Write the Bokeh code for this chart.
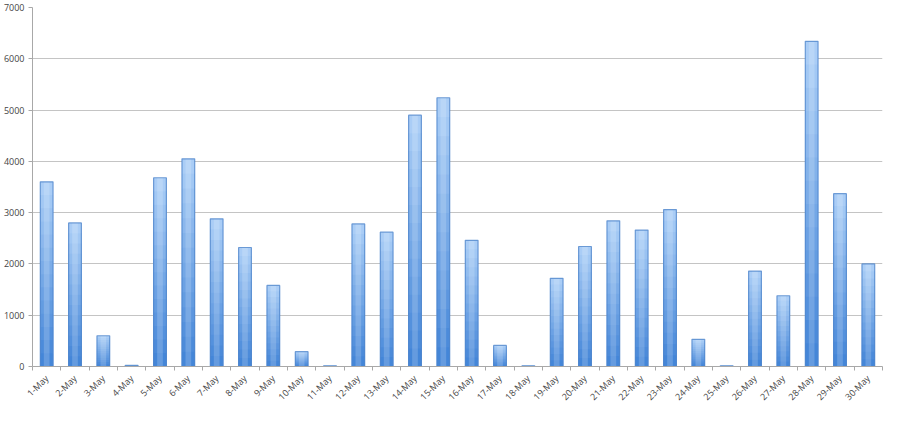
import math
from bokeh.plotting import figure
from bokeh.models import FixedTicker, Range1d, ColumnDataSource
from bokeh.embed import file_html
from bokeh.resources import INLINE

days = [f"{d}-May" for d in range(1, 31)]
values = [3600, 2800, 600, 20, 3680, 4050, 2880, 2320, 1580, 290,
          15, 2780, 2620, 4900, 5240, 2460, 410, 15, 1720, 2340,
          2840, 2660, 3060, 530, 15, 1860, 1380, 6340, 3370, 2000]
y_ticks = [0, 1000, 2000, 3000, 4000, 5000, 6000, 7000]

xs = list(range(1, len(days) + 1))

p = figure(width=884, height=410, output_backend="svg", toolbar_location=None,
           x_range=Range1d(0.5, len(days) + 0.5), y_range=Range1d(0, 7000),
           min_border_left=26, min_border_right=2, min_border_top=7, min_border_bottom=0)
p.outline_line_color = None
p.background_fill_color = "white"

light = (170, 205, 246)
dark = (68, 134, 216)
N = 14
for k in range(N):
    f = 1 - k / N
    t = k / (N - 1)
    c = tuple(int(round(light[i] + (dark[i] - light[i]) * t)) for i in range(3))
    col = "#%02x%02x%02x" % c
    src = ColumnDataSource(dict(x=xs, top=[v * f for v in values]))
    p.vbar(x="x", top="top", bottom=0, width=0.45, source=src,
           fill_color=col, line_color=None)

src_full = ColumnDataSource(dict(x=xs, top=values))
p.vbar(x="x", top="top", bottom=0, width=0.2, source=src_full,
       fill_color="white", fill_alpha=0.18, line_color=None)
p.vbar(x="x", top="top", bottom=0, width=0.45, source=src_full,
       fill_color=None, line_color="#4f86cc", line_width=1.2, line_alpha=0.8)

p.xaxis.ticker = FixedTicker(ticks=xs, minor_ticks=[x + 0.5 for x in range(0, len(days) + 1)])
p.xaxis.major_label_overrides = {x: d for x, d in zip(xs, days)}
p.xaxis.major_label_orientation = math.pi / 4
p.xaxis.major_tick_line_color = None
p.xaxis.major_tick_out = 0
p.xaxis.major_tick_in = 0
p.xaxis.minor_tick_line_color = "#a8a8a8"
p.xaxis.minor_tick_out = 4
p.xaxis.minor_tick_in = 0
p.xaxis.axis_line_color = "#a8a8a8"
p.xaxis.major_label_text_font = "Open Sans"
p.xaxis.major_label_text_font_size = "9px"
p.xaxis.major_label_text_color = "#444444"
p.xaxis.major_label_standoff = 6

p.yaxis.ticker = FixedTicker(ticks=y_ticks, minor_ticks=[])
p.yaxis.axis_line_color = "#a8a8a8"
p.yaxis.major_tick_line_color = "#a8a8a8"
p.yaxis.major_tick_out = 4
p.yaxis.major_tick_in = 0
p.yaxis.major_label_text_font = "Open Sans"
p.yaxis.major_label_text_font_size = "9px"
p.yaxis.major_label_text_color = "#444444"
p.yaxis.major_label_standoff = 4

p.xgrid.grid_line_color = None
p.ygrid.grid_line_color = "#c4c4c4"
p.ygrid.grid_line_width = 1.2

open("out.html", "w").write(file_html(p, INLINE))
